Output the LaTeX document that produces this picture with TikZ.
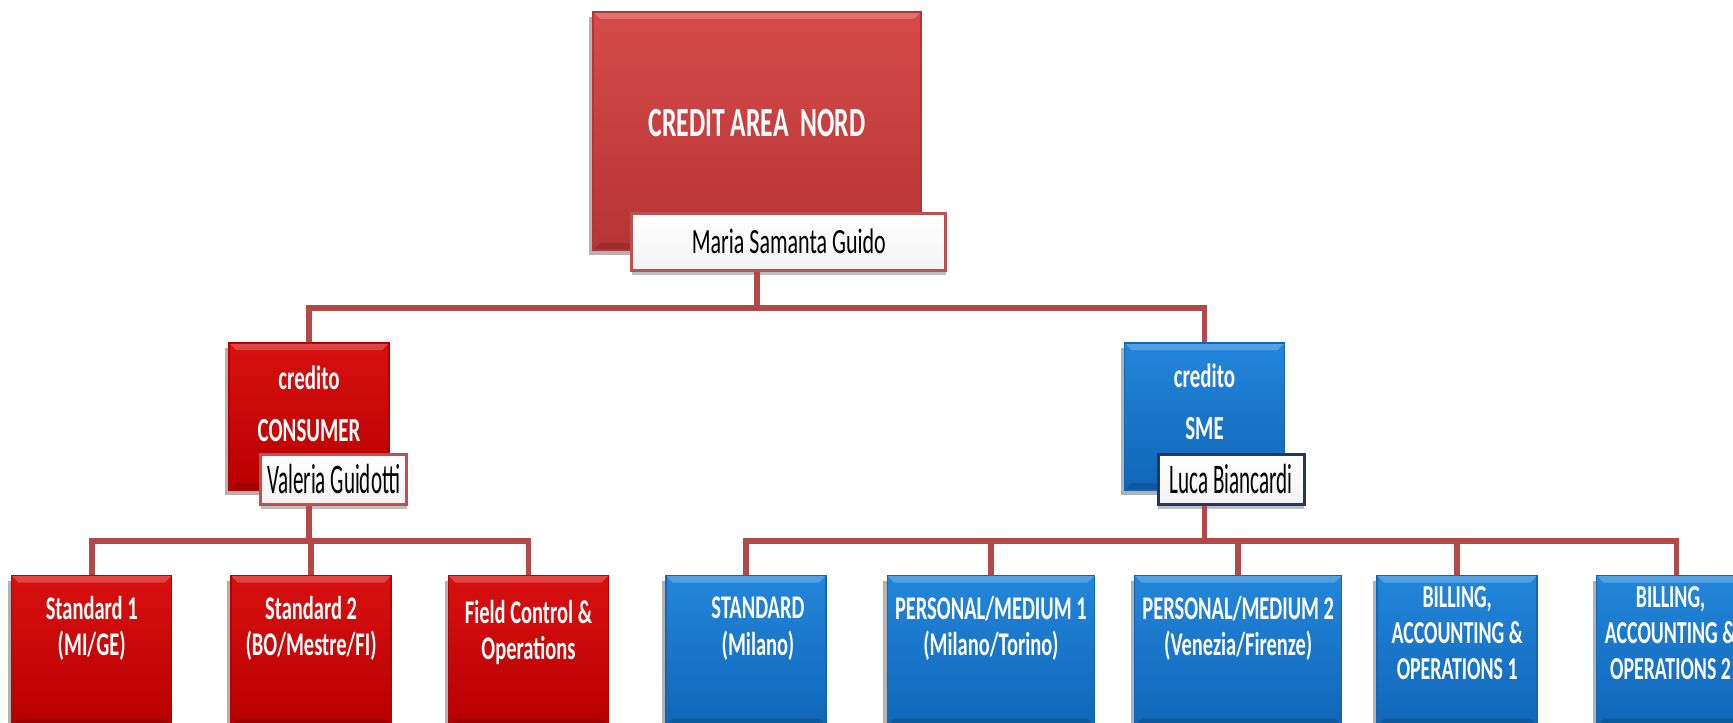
\documentclass[tikz,border=0pt]{standalone}
\usepackage{fontspec}
\setmainfont{Carlito}
\newfontfamily\boxfont[FakeStretch=0.62]{Carlito}
\newfontfamily\tagfont[FakeStretch=0.5]{Carlito}
\usepackage{tikz}
\usetikzlibrary{calc, positioning, shadows}
\usepackage{xcolor}
\definecolor{headred}{HTML}{D84A4A}
\definecolor{headreddark}{HTML}{B43535}
\definecolor{consumerred}{HTML}{D81010}
\definecolor{consumerreddark}{HTML}{B80000}
\definecolor{smeblue}{HTML}{2386DA}
\definecolor{smebluedark}{HTML}{1066B8}
\definecolor{linkred}{HTML}{B44848}
\definecolor{tagred}{HTML}{C0504D}
\definecolor{tagnavy}{HTML}{1F3864}

\begin{document}
\begin{tikzpicture}[
    bevel/.style={path picture={
        \fill[white, opacity=0.22] (path picture bounding box.north west) -- (path picture bounding box.north east) -- ([xshift=-0.07cm, yshift=-0.07cm]path picture bounding box.north east) -- ([xshift=0.07cm, yshift=-0.07cm]path picture bounding box.north west) -- cycle;
        \fill[black, opacity=0.15] (path picture bounding box.south west) -- (path picture bounding box.south east) -- ([xshift=-0.07cm, yshift=0.07cm]path picture bounding box.south east) -- ([xshift=0.07cm, yshift=0.07cm]path picture bounding box.south west) -- cycle;
    }},
    shade/.style={drop shadow={shadow xshift=-0.04cm, shadow yshift=-0.05cm, opacity=0.3, fill=black}},
    headbox/.style={rectangle, inner sep=0pt, minimum width=3.28cm, minimum height=2.38cm, top color=headred, bottom color=headreddark, draw=headreddark, bevel, shade},
    redbox/.style={rectangle, inner sep=0pt, minimum width=1.60cm, minimum height=1.5cm, top color=consumerred, bottom color=consumerreddark, draw=consumerreddark, bevel, shade},
    bluebox/.style={rectangle, inner sep=0pt, minimum width=1.60cm, minimum height=1.5cm, top color=smeblue, bottom color=smebluedark, draw=smebluedark, bevel, shade},
    tag/.style={rectangle, inner sep=0pt, draw=tagred, line width=0.9pt, top color=white, bottom color=gray!10, minimum width=1.46cm, minimum height=0.50cm, font=\tagfont\fontsize{12}{14}\selectfont, drop shadow={shadow xshift=0cm, shadow yshift=-0.05cm, opacity=0.25, fill=black}},
    headtag/.style={tag, minimum width=3.14cm, minimum height=0.57cm, font=\boxfont\fontsize{10.1}{12}\selectfont},
    boxtext/.style={align=center, text=white, font=\boxfont\bfseries\fontsize{9.4}{10.4}\selectfont},
    link/.style={linkred, line width=1.6pt}
]
    % Canvas
    \path[use as bounding box, clip] (0,0) rectangle (17.33,-7.22);
    \fill[white] (0,0) rectangle (17.33,-7.22);

    % Area head
    \node[headbox] (head) at (7.57,-1.31) {};
    \node[headtag, anchor=south west] (maria) at ([shift={(0.38,-0.21)}]head.south west) {Maria Samanta Guido};

    % Credit lines
    \node[redbox, minimum height=1.47cm] (consumer) at (3.09,-4.165) {};
    \node[bluebox, minimum height=1.47cm] (sme) at (12.045,-4.165) {};
    \node[tag, anchor=south west] (valeria) at ([shift={(0.31,-0.15)}]consumer.south west) {Valeria Guidotti};
    \node[tag, draw=tagnavy, anchor=south west] (luca) at ([shift={(0.33,-0.15)}]sme.south west) {Luca Biancardi};

    % Units
    \node[redbox, anchor=north west] (std1) at (0.11,-5.75) {};
    \node[redbox, right=0.58cm of std1] (std2) {};
    \node[redbox, right=0.56cm of std2] (field) {};
    \node[bluebox, right=0.56cm of field] (standard) {};
    \node[bluebox, minimum width=2.07cm, right=0.60cm of standard] (pm1) {};
    \node[bluebox, minimum width=2.07cm, right=0.39cm of pm1] (pm2) {};
    \node[bluebox, right=0.34cm of pm2] (bao1) {};
    \node[bluebox, right=0.58cm of bao1] (bao2) {};

    % Box texts
    \node[boxtext, font=\boxfont\bfseries\fontsize{11.8}{14}\selectfont] (headtxt) at ([yshift=-1.12cm]head.north) {CREDIT AREA\ \ NORD};
    \node[boxtext, font=\boxfont\bfseries\fontsize{9.6}{10.6}\selectfont] (consumertxt) at ([yshift=-0.61cm]consumer.north) {credito\\[4.2pt]CONSUMER};
    \node[boxtext, font=\boxfont\bfseries\fontsize{9.6}{10.6}\selectfont] (smetxt) at ([yshift=-0.59cm]sme.north) {credito\\[4.2pt]SME};
    \node[boxtext] (std1txt) at ([yshift=-0.535cm]std1.north) {Standard 1\\(MI/GE)};
    \node[boxtext] (std2txt) at ([yshift=-0.535cm]std2.north) {Standard 2\\(BO/Mestre/FI)};
    \node[boxtext] (fieldtxt) at ([yshift=-0.575cm]field.north) {Field Control \&\\Operations};
    \node[boxtext] (standardtxt) at ([xshift=0.12cm, yshift=-0.535cm]standard.north) {STANDARD\\(Milano)};
    \node[boxtext] (pm1txt) at ([yshift=-0.535cm]pm1.north) {PERSONAL/MEDIUM 1\\(Milano/Torino)};
    \node[boxtext] (pm2txt) at ([yshift=-0.535cm]pm2.north) {PERSONAL/MEDIUM 2\\(Venezia/Firenze)};
    \node[boxtext, font=\boxfont\bfseries\fontsize{9.1}{10.2}\selectfont] (bao1txt) at ([yshift=-0.58cm]bao1.north) {BILLING,\\ACCOUNTING \&\\OPERATIONS 1};
    \node[boxtext, font=\boxfont\bfseries\fontsize{9.1}{10.2}\selectfont] (bao2txt) at ([xshift=-0.06cm, yshift=-0.58cm]bao2.north) {BILLING,\\ACCOUNTING \&\\OPERATIONS 2};

    % Connections
    \coordinate (bus1) at ($(head.south)+(0,-0.57)$);
    \coordinate (bus2) at ($(consumer.south)+(0,-0.50)$);
    \coordinate (bus3) at ($(sme.south)+(0,-0.50)$);
    \draw[link] (head.south |- maria.south) -- (bus1) -| (consumer.north);
    \draw[link] (head.south |- maria.south) -- (bus1) -| (sme.north);
    \draw[link] (consumer.south |- valeria.south) -- (bus2) -| (std1.north);
    \draw[link] (consumer.south |- valeria.south) -- (bus2) -| (std2.north);
    \draw[link] (consumer.south |- valeria.south) -- (bus2) -| (field.north);
    \draw[link] (sme.south |- luca.south) -- (bus3) -| (standard.north);
    \draw[link] (sme.south |- luca.south) -- (bus3) -| (pm1.north);
    \draw[link] (sme.south |- luca.south) -- (bus3) -| (pm2.north);
    \draw[link] (sme.south |- luca.south) -- (bus3) -| (bao1.north);
    \draw[link] (sme.south |- luca.south) -- (bus3) -| (bao2.north);
\end{tikzpicture}
\end{document}
